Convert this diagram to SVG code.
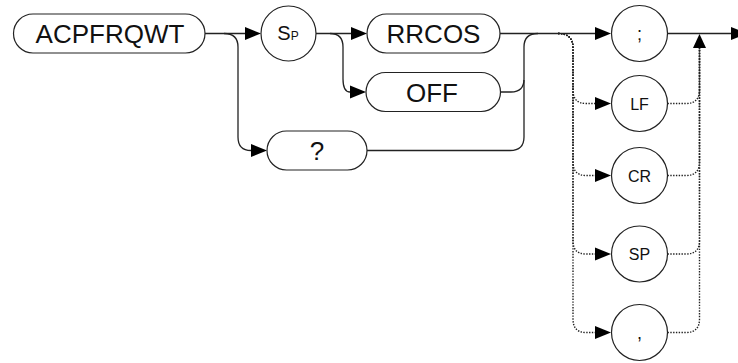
<svg xmlns="http://www.w3.org/2000/svg" width="738" height="363" viewBox="0 0 738 363">
<style>
.n{fill:#fff;stroke:#222;stroke-width:1.2}
.t{font-family:"Liberation Sans",Arial,sans-serif;fill:#111;text-anchor:middle}
.big{font-size:26px}
.sm{font-size:16px}
.c{fill:none;stroke:#222;stroke-width:1.3}
.d{fill:none;stroke:#222;stroke-width:1.4;stroke-dasharray:1.4 1.4}
.a{fill:#000}
</style>
<g id="connectors">
<path class="c" d="M205 33.5H245"/>
<polygon class="a" points="245,27 261,33.5 245,40"/>
<path class="c" d="M224 33.5Q238 33.5 238 47V137Q238 150.5 251 150.5"/>
<polygon class="a" points="251,144 267,150.5 251,157"/>
<path class="c" d="M316 33.5H351"/>
<polygon class="a" points="351,27 367,33.5 351,40"/>
<path class="c" d="M330 33.5Q343 33.5 343 47V79Q343 92 350 92"/>
<polygon class="a" points="350,85.5 366,92 350,98.5"/>
<path class="c" d="M500 33.5H595"/>
<polygon class="a" points="595,27 611,33.5 595,40"/>
<path class="c" d="M500 92H511Q524 92 524 79V47Q524 33.5 538 33.5"/>
<path class="c" d="M367 150.5H510Q524 150.5 524 137V80"/>
<path class="c" d="M667.5 33.5H731"/>
<polygon class="a" points="731,27 747,33.5 731,40"/>
<path class="d" d="M558 33.5Q573 33.5 573 48V90Q573 103.5 586 103.5H595"/>
<path class="d" d="M558 33.5Q573 33.5 573 48V162Q573 175.5 586 175.5H595"/>
<path class="d" d="M558 33.5Q573 33.5 573 48V241Q573 254 586 254H595"/>
<path class="d" d="M558 33.5Q573 33.5 573 48V319Q573 332.5 586 332.5H595"/>
<polygon class="a" points="595,97 611,103.5 595,110"/>
<polygon class="a" points="595,169 611,175.5 595,182"/>
<polygon class="a" points="595,247.5 611,254 595,260.5"/>
<polygon class="a" points="595,326 611,332.5 595,339"/>
<path class="d" d="M667.5 103.5H686Q699.5 103.5 699.5 90V48"/>
<path class="d" d="M667.5 175.5H686Q699.5 175.5 699.5 162V48"/>
<path class="d" d="M667.5 254H686Q699.5 254 699.5 241V48"/>
<path class="d" d="M667.5 332.5H686Q699.5 332.5 699.5 319V48"/>
<polygon class="a" points="693,48 699.5,34 706,48"/>
</g>
<g id="node-acpfrqwt">
<rect class="n" x="13.5" y="14" width="191.5" height="39" rx="19.5"/>
<text class="t big" x="110" y="42.5">ACPFRQWT</text>
</g>
<g id="node-sp">
<circle class="n" cx="288.5" cy="33.5" r="27.5"/>
<text class="t" x="288" y="40" style="font-size:20px">S<tspan style="font-size:12px">P</tspan></text>
</g>
<g id="node-rrcos">
<rect class="n" x="367" y="14" width="133" height="39" rx="19.5"/>
<text class="t big" x="433.5" y="42.5">RRCOS</text>
</g>
<g id="node-off">
<rect class="n" x="366" y="72.5" width="134.5" height="39" rx="19.5"/>
<text class="t big" x="432" y="101.5">OFF</text>
</g>
<g id="node-query">
<rect class="n" x="267" y="131" width="100" height="39" rx="19.5"/>
<text class="t big" x="317" y="160">?</text>
</g>
<g id="node-semicolon">
<circle class="n" cx="639.5" cy="33.5" r="28"/>
<text class="t" x="639.5" y="40" style="font-size:18px">;</text>
</g>
<g id="node-lf">
<circle class="n" cx="639.5" cy="103.5" r="28"/>
<text class="t sm" x="639.5" y="109.5">LF</text>
</g>
<g id="node-cr">
<circle class="n" cx="639.5" cy="175.5" r="28"/>
<text class="t sm" x="639.5" y="181.5">CR</text>
</g>
<g id="node-sp2">
<circle class="n" cx="639.5" cy="254" r="28"/>
<text class="t sm" x="639.5" y="260">SP</text>
</g>
<g id="node-comma">
<circle class="n" cx="639.5" cy="332.5" r="28"/>
<text class="t" x="639.5" y="339" style="font-size:18px">,</text>
</g>
</svg>
